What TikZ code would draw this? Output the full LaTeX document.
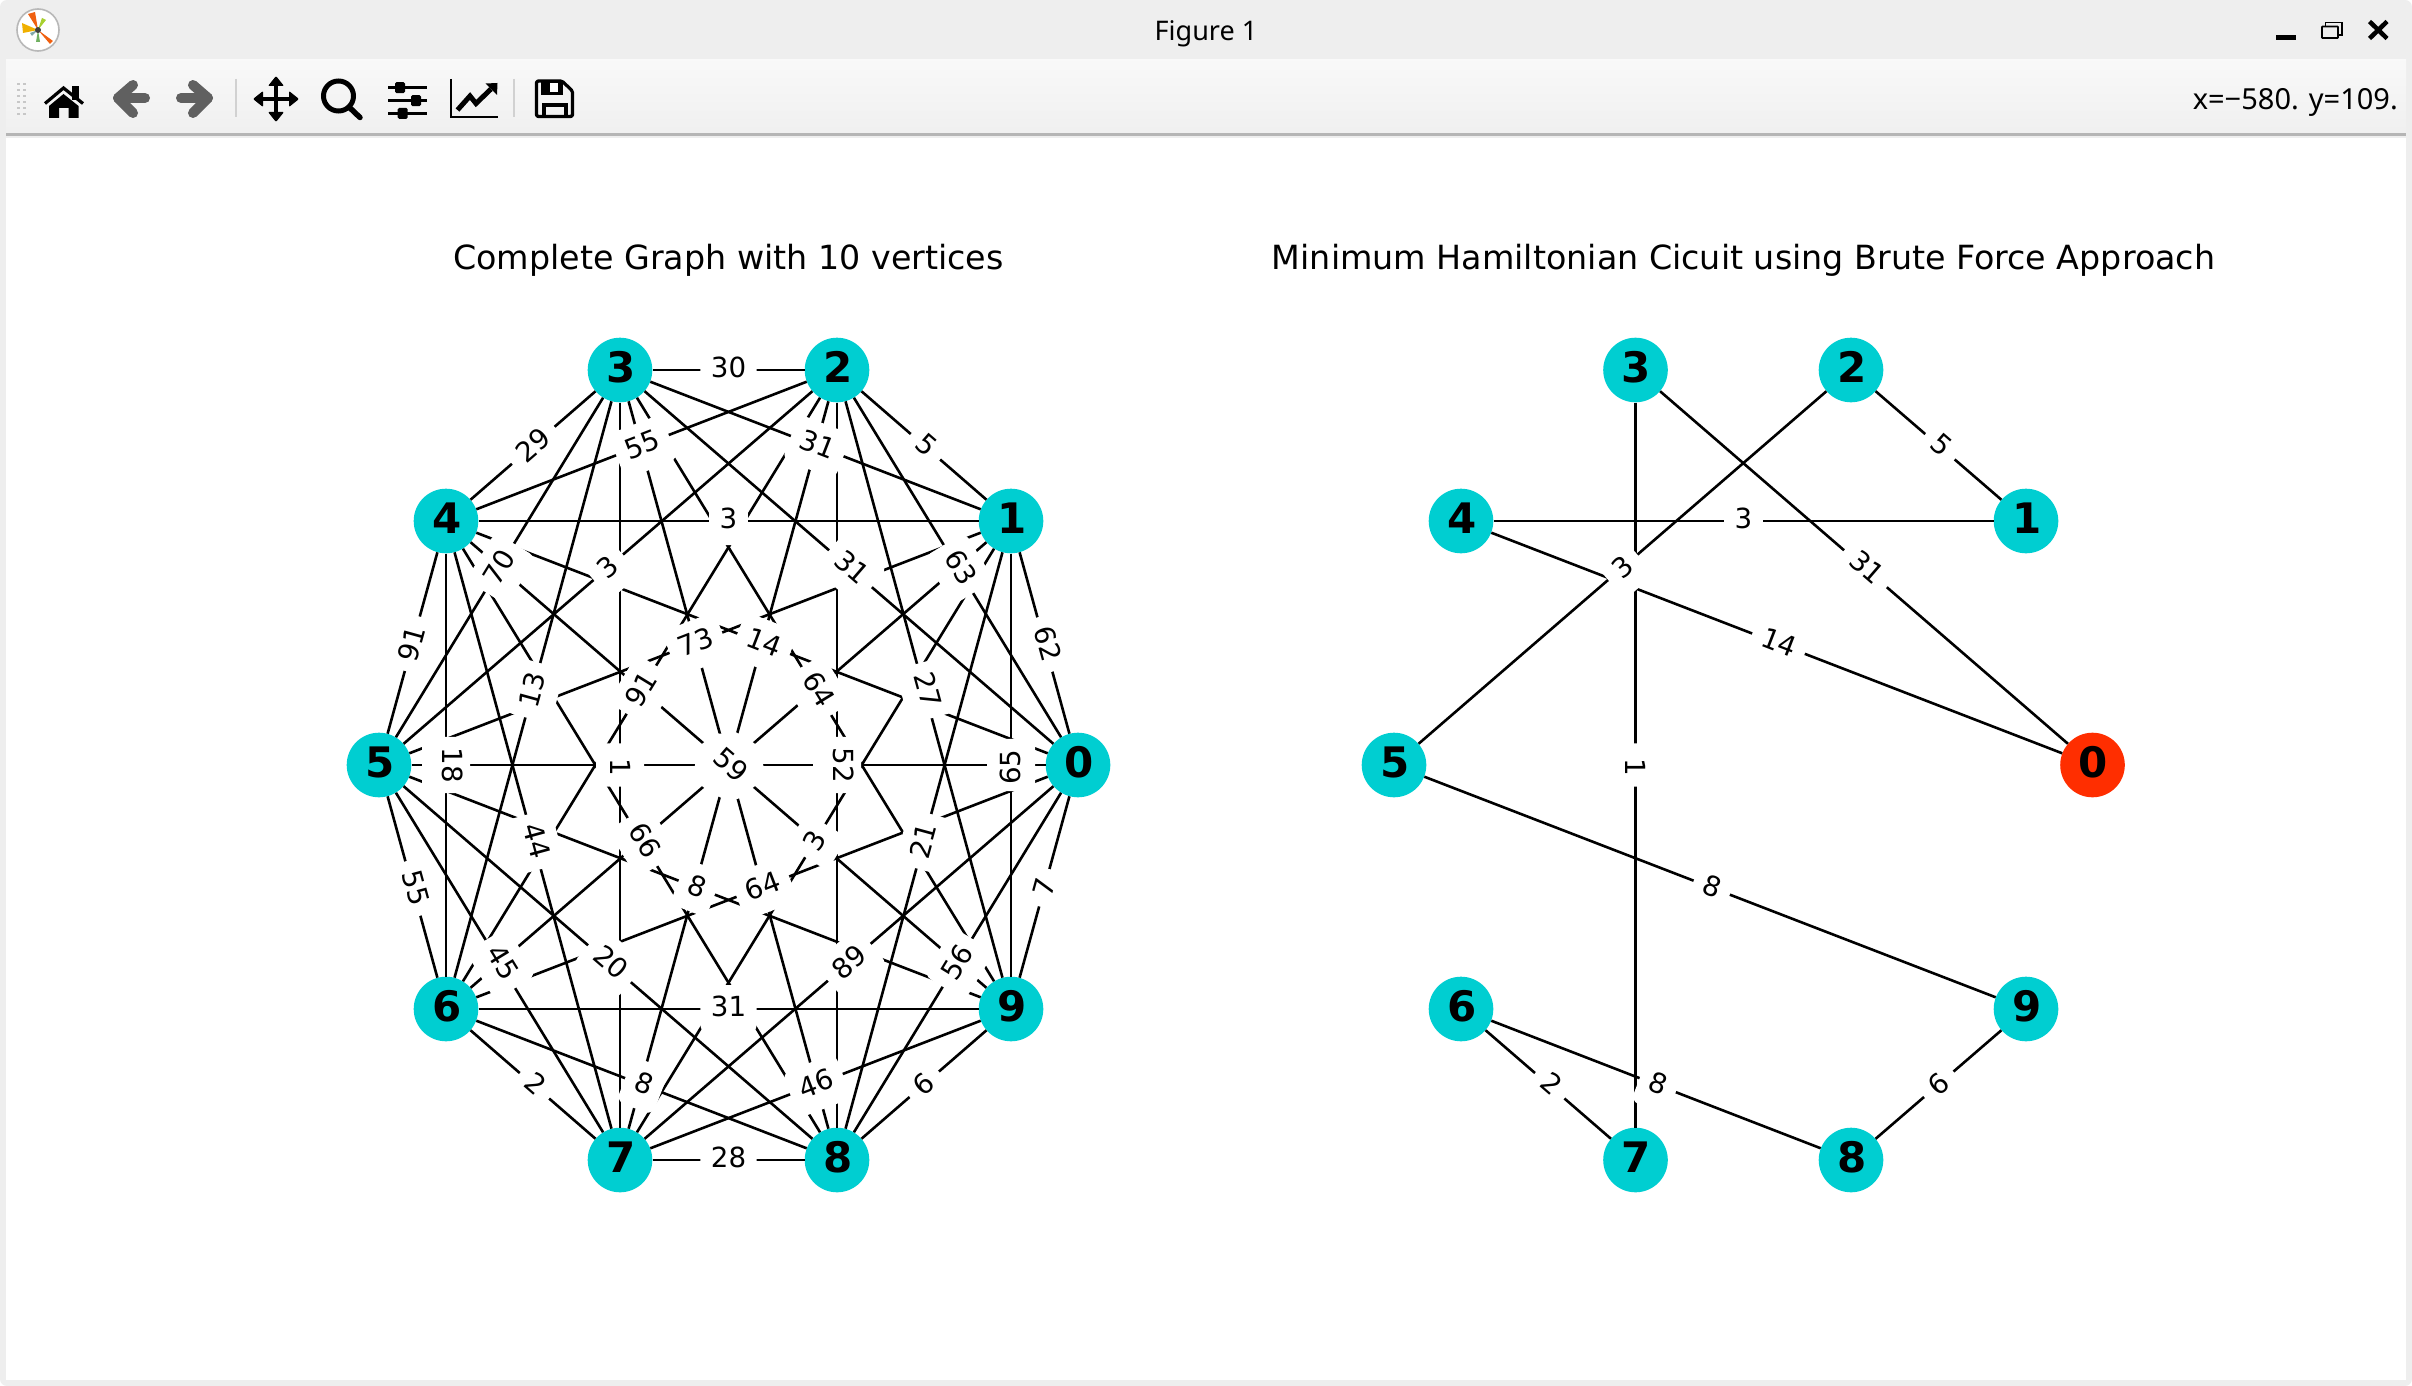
\documentclass[tikz,border=0pt]{standalone}
\usepackage{fontspec}
\newfontfamily\dv{DejaVu Sans}
\newfontfamily\uifont{Noto Sans}
\definecolor{vcol}{HTML}{00CED1}
\definecolor{rcol}{HTML}{FF2E00}
\definecolor{chrome}{HTML}{EEEEEE}
\definecolor{arrgray}{HTML}{606060}
\definecolor{logored}{HTML}{F06010}
\definecolor{logoyel}{HTML}{F0B000}
\definecolor{logolime}{HTML}{A8D030}
\definecolor{logogrn}{HTML}{70B060}
\definecolor{logoteal}{HTML}{80A8A8}
\tikzset{
  vert/.style={circle,fill=vcol,minimum size=64.6pt,inner sep=0pt,font=\dv\bfseries\fontsize{42}{44}\selectfont,text height=30pt,text depth=6pt,execute at begin node={\hspace{1.4pt}}},
  redvert/.style={vert,fill=rcol},
  edgeln/.style={line width=2.6pt,black},
  elab/.style={fill=white,rounded corners=8pt,inner xsep=10.5pt,inner ysep=0pt,text height=31.7pt,text depth=16.3pt,font=\dv\fontsize{27.7}{30}\selectfont,midway},
  slab/.style={elab,sloped},
  hlab/.style={elab},
  dlab/.style={elab,rotate=-90,text height=33.7pt,text depth=14.3pt},
  dlabb/.style={elab,rotate=-90,text height=27.7pt,text depth=20.3pt},
  ulab/.style={elab,rotate=90,text height=33.2pt,text depth=14.8pt},
  titletxt/.style={font=\dv\fontsize{33.3}{36}\selectfont,anchor=base},
  uitxt/.style={font=\uifont\fontsize{29}{32}\selectfont,anchor=base,text=black,inner sep=0pt},
  sepline/.style={line width=2pt,color=black!18},
  ictool/.style={line width=4.5pt,black},
}
% sloped edge label, its box set a little down and to the right of the midpoint
\newcommand\slabel[3]{\path ([shift={(1.5,1.2)}]#1.center) -- node[slab] {#3} ([shift={(1.5,1.2)}]#2.center);}
\begin{document}
\begin{tikzpicture}[x=1pt,y=-1pt]
\useasboundingbox (0,0) rectangle (2412,1386);
% window
\fill[white] (0,0) rectangle (2412,1386);
\fill[chrome,rounded corners=7pt] (0,0) rectangle (2412,1386);
\shade[top color=black!2.5,bottom color=black!6] (6,60) rectangle (2406,133);
\fill[black!29] (6,133) rectangle (2406,136);
\fill[white] (6,138) rectangle (2406,1380);
% logo
\fill[white] (38,30) circle (21);
\draw[black!28,line width=1.6pt] (38,30) circle (21);
\fill[logored] (38,30) -- (28,14) -- (35,12) -- cycle;
\fill[logoyel] (38,30) -- (22,23) -- (23,33) -- cycle;
\fill[logolime] (38,30) -- (42,18) -- (46,20) -- cycle;
\fill[logogrn] (38,30) -- (36,42) -- (40,42) -- cycle;
\fill[logored] (38,30) -- (50,44) -- (53,41) -- cycle;
\fill[logoteal] (38,30) -- (30,33) -- (32,36) -- cycle;
\fill[black!75] (38,30) circle (3);
% grip
\foreach \gy in {83,89,95,101,107,113}{
  \fill[black!22] (17,\gy) rectangle (19.5,\gy+2.5);
  \fill[black!22] (23,\gy) rectangle (25.5,\gy+2.5);
}
% home
\fill[black] (72,86) rectangle (78.5,100);
\draw[black,line width=3.2pt] (45,103.5) -- (63.5,88) -- (83,103.5);
\fill[black] (63.5,94) -- (78.5,106) -- (78.5,118) -- (68.5,118) -- (68.5,108) -- (59,108) -- (59,118) -- (49,118) -- (49,106) -- cycle;
% back, forward
\draw[arrgray,line width=10pt,line cap=round,line join=round] (145,98) -- (118,98);
\draw[arrgray,line width=10pt,line cap=round,line join=round] (133,85) -- (118,98) -- (133,113);
\draw[arrgray,line width=10pt,line cap=round,line join=round] (181,98) -- (208,98);
\draw[arrgray,line width=10pt,line cap=round,line join=round] (193,85) -- (208,98) -- (193,113);
\draw[sepline] (236,79) -- (236,117);
% move
\draw[black,line width=4.5pt] (276,80) -- (276,118) (257,99) -- (295,99);
\fill[black,rounded corners=1pt] (276,76) -- (284,86) -- (268,86) -- cycle;
\fill[black,rounded corners=1pt] (276,122) -- (284,112) -- (268,112) -- cycle;
\fill[black,rounded corners=1pt] (253,99) -- (263,91) -- (263,107) -- cycle;
\fill[black,rounded corners=1pt] (299,99) -- (289,91) -- (289,107) -- cycle;
% zoom
\draw[black,line width=5pt] (338.5,96) circle (15);
\draw[black,line width=5.5pt,line cap=round] (349,107) -- (360,117.5);
% sliders
\foreach \ly/\kx in {87.7/400,100.7/416,113.3/402.7}{
  \draw[black,line width=2.8pt] (388,\ly) -- (427,\ly);
  \fill[black,rounded corners=1.5pt] (\kx-5,\ly-5.5) rectangle (\kx+5,\ly+5.5);
}
% chart
\draw[black,line width=2pt] (451,79) -- (451,117.3) -- (498,117.3);
\draw[ictool,line width=5pt] (457.5,110) -- (470,96) -- (476,103.5) -- (491,89);
\fill[black] (485.5,83.5) -- (497.5,83) -- (497,95) -- cycle;
\draw[sepline] (514.3,79) -- (514.3,117);
% save
\draw[black,line width=3.2pt,line join=round,rounded corners=1.5pt] (536.5,81) -- (562,81) -- (572.5,91) -- (572.5,116.5) -- (536.5,116.5) -- cycle;
\fill[black] (541,81) rectangle (563,95);
\fill[white] (550,83.5) rectangle (558,92);
\draw[black,line width=3.2pt] (544,117) -- (544,105) -- (566,105) -- (566,117);
% title and status
\node[uitxt,anchor=base,font=\uifont\fontsize{27}{30}\selectfont] (wtitle) at (1206,40.5) {Figure 1};
\node[uitxt,anchor=base east] (coords) at (2398,110) {x=−580. y=109.};
% controls
\fill[black] (2276,35) rectangle (2296,40);
\draw[black,line width=1.6pt] (2325.5,26) -- (2325.5,22.5) -- (2342,22.5) -- (2342,35) -- (2338,35);
\draw[black,line width=1.6pt,rounded corners=0.5pt] (2322,26.5) rectangle (2338,38);
\draw[black,line width=4.5pt] (2369.5,21.5) -- (2387,38.5) (2387,21.5) -- (2369.5,38.5);
% subplot titles
\node[titletxt] (tleft) at (728.5,269.5) {Complete Graph with 10 vertices};
\node[titletxt] (tright) at (1743.5,269.5) {Minimum Hamiltonian Cicuit using Brute Force Approach};
% left graph vertices
\foreach \n/\vx/\vy in {0/1078/765,1/1011/521,2/837/370,3/620/370,4/446/521,5/379/765,6/446/1009,7/620/1160,8/837/1160,9/1011/1009}
  \node[vert] (a\n) at (\vx,\vy) {\n};
% left graph edges
\foreach \s/\t in {0/1,0/2,0/3,0/4,0/5,0/6,0/7,0/8,0/9,1/2,1/3,1/4,1/5,1/6,1/7,1/8,1/9,2/3,2/4,2/5,2/6,2/7,2/8,2/9,3/4,3/5,3/6,3/7,3/8,3/9,4/5,4/6,4/7,4/8,4/9,5/6,5/7,5/8,5/9,6/7,6/8,6/9,7/8,7/9,8/9}
  \draw[edgeln] (a\s) -- (a\t);
% left graph labels
\slabel{a0}{a1}{62}
\slabel{a0}{a2}{63}
\slabel{a0}{a3}{31}
\slabel{a0}{a4}{14}
\path (a0) -- node[hlab] {\phantom{00}} (a5);
\slabel{a0}{a6}{64}
\slabel{a0}{a7}{89}
\slabel{a0}{a8}{56}
\slabel{a0}{a9}{7}
\slabel{a1}{a2}{5}
\slabel{a1}{a3}{31}
\path (a1) -- node[hlab] {3} (a4);
\slabel{a1}{a5}{73}
\path (a1) -- node[slab] {\phantom{00}} (a6);
\slabel{a1}{a7}{3}
\slabel{a1}{a8}{21}
\path (a1) -- node[ulab] {\hspace{-4pt}65\hspace{4pt}} (a9);
\path (a2) -- node[hlab] {30} (a3);
\slabel{a2}{a4}{55}
\slabel{a2}{a5}{3}
\slabel{a2}{a6}{91}
\path (a2) -- node[slab] {\phantom{00}} (a7);
\path (a2) -- node[dlabb] {52} (a8);
\slabel{a2}{a9}{27}
\slabel{a3}{a4}{29}
\slabel{a3}{a5}{70}
\slabel{a3}{a6}{13}
\path (a3) -- node[dlab] {\hspace{4.5pt}1\hspace{-4.5pt}} (a7);
\path (a3) -- node[slab] {\phantom{00}} (a8);
\slabel{a3}{a9}{64}
\slabel{a4}{a5}{91}
\path (a4) -- node[dlabb] {18} (a6);
\slabel{a4}{a7}{44}
\slabel{a4}{a8}{66}
\slabel{a4}{a9}{59}
\slabel{a5}{a6}{55}
\slabel{a5}{a7}{45}
\slabel{a5}{a8}{20}
\slabel{a5}{a9}{8}
\slabel{a6}{a7}{2}
\slabel{a6}{a8}{8}
\path (a6) -- node[hlab] {31} (a9);
\path (a7) -- node[hlab] {28} (a8);
\slabel{a7}{a9}{46}
\slabel{a8}{a9}{6}
% right graph
\foreach \n/\vx/\vy in {1/2026/521,2/1851/370,3/1635.5/370,4/1461/521,5/1394/765,6/1461/1009,7/1635.5/1160,8/1851/1160,9/2026/1009}
  \node[vert] (b\n) at (\vx,\vy) {\n};
\node[redvert] (b0) at (2092.5,765) {0};
\foreach \s/\t in {0/3,0/4,1/2,1/4,2/5,3/7,5/9,6/7,6/8,8/9}
  \draw[edgeln] (b\s) -- (b\t);
\slabel{b0}{b3}{31}
\slabel{b0}{b4}{14}
\slabel{b1}{b2}{5}
\path (b1) -- node[hlab] {3} (b4);
\slabel{b2}{b5}{3}
\path (b3) -- node[dlab] {\hspace{4.5pt}1\hspace{-4.5pt}} (b7);
\slabel{b5}{b9}{8}
\slabel{b6}{b7}{2}
\slabel{b6}{b8}{8}
\slabel{b8}{b9}{6}
\end{tikzpicture}
\end{document}
